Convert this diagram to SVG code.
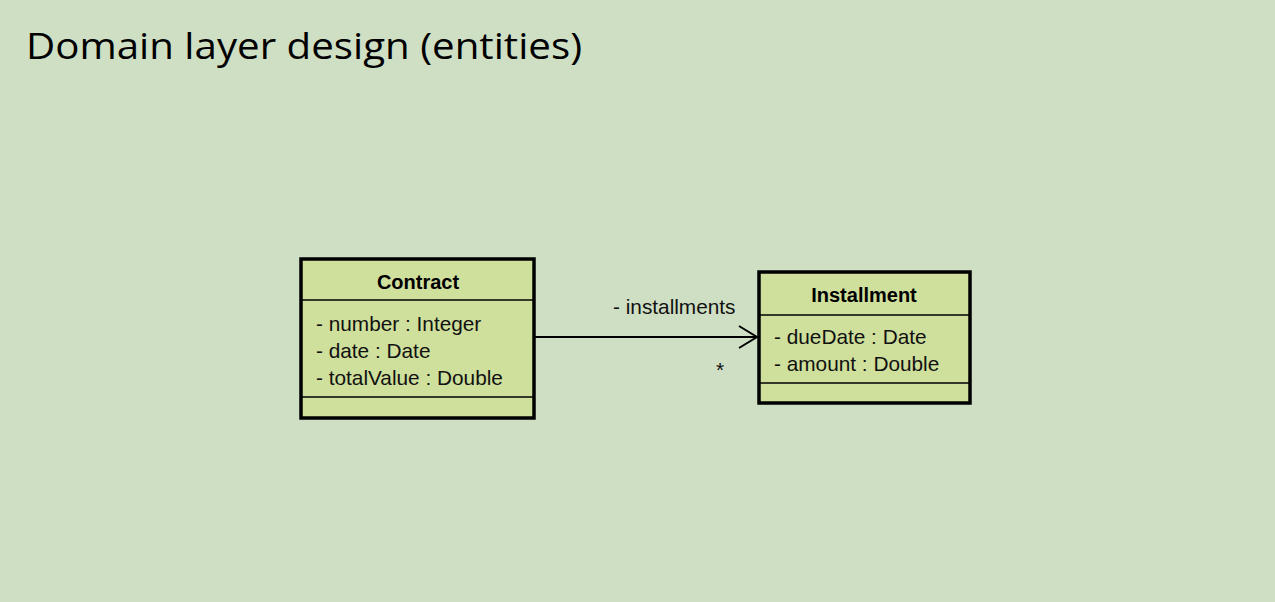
<svg xmlns="http://www.w3.org/2000/svg" width="1275" height="602" viewBox="0 0 1275 602">
<style>
.box{fill:#cfdf9c;stroke:#000;stroke-width:3.5}
.div{stroke:#000;stroke-width:1.5}
.t{font-family:"Liberation Sans",Arial,sans-serif;font-size:20.8px;fill:#111}
.b{font-family:"Liberation Sans",Arial,sans-serif;font-size:20px;font-weight:bold;fill:#000;text-anchor:middle}
.conn{stroke:#000;stroke-width:2;fill:none}
</style>
<rect width="1275" height="602" fill="#cfdfc4"/>
<text x="26" y="59" font-family="'Open Sans','Noto Sans',sans-serif" font-size="37" fill="#000" textLength="556" lengthAdjust="spacingAndGlyphs">Domain layer design (entities)</text>
<g id="connectors">
<line class="conn" x1="535" y1="337" x2="757" y2="337"/>
<polyline class="conn" points="739,326 757,337 739,348"/>
<text class="t" x="613" y="314">- installments</text>
<text class="t" x="716" y="377" font-size="15">*</text>
</g>
<g id="contract">
<rect class="box" x="301" y="259" width="233" height="159"/>
<line class="div" x1="301" y1="300" x2="534" y2="300"/>
<line class="div" x1="301" y1="397" x2="534" y2="397"/>
<text class="b" x="418" y="289">Contract</text>
<text class="t" x="316" y="331">- number : Integer</text>
<text class="t" x="316" y="358">- date : Date</text>
<text class="t" x="316" y="385">- totalValue : Double</text>
</g>
<g id="installment">
<rect class="box" x="759" y="272" width="211" height="131"/>
<line class="div" x1="759" y1="315" x2="970" y2="315"/>
<line class="div" x1="759" y1="383" x2="970" y2="383"/>
<text class="b" x="864" y="302">Installment</text>
<text class="t" x="774" y="344">- dueDate : Date</text>
<text class="t" x="774" y="371">- amount : Double</text>
</g>
</svg>
